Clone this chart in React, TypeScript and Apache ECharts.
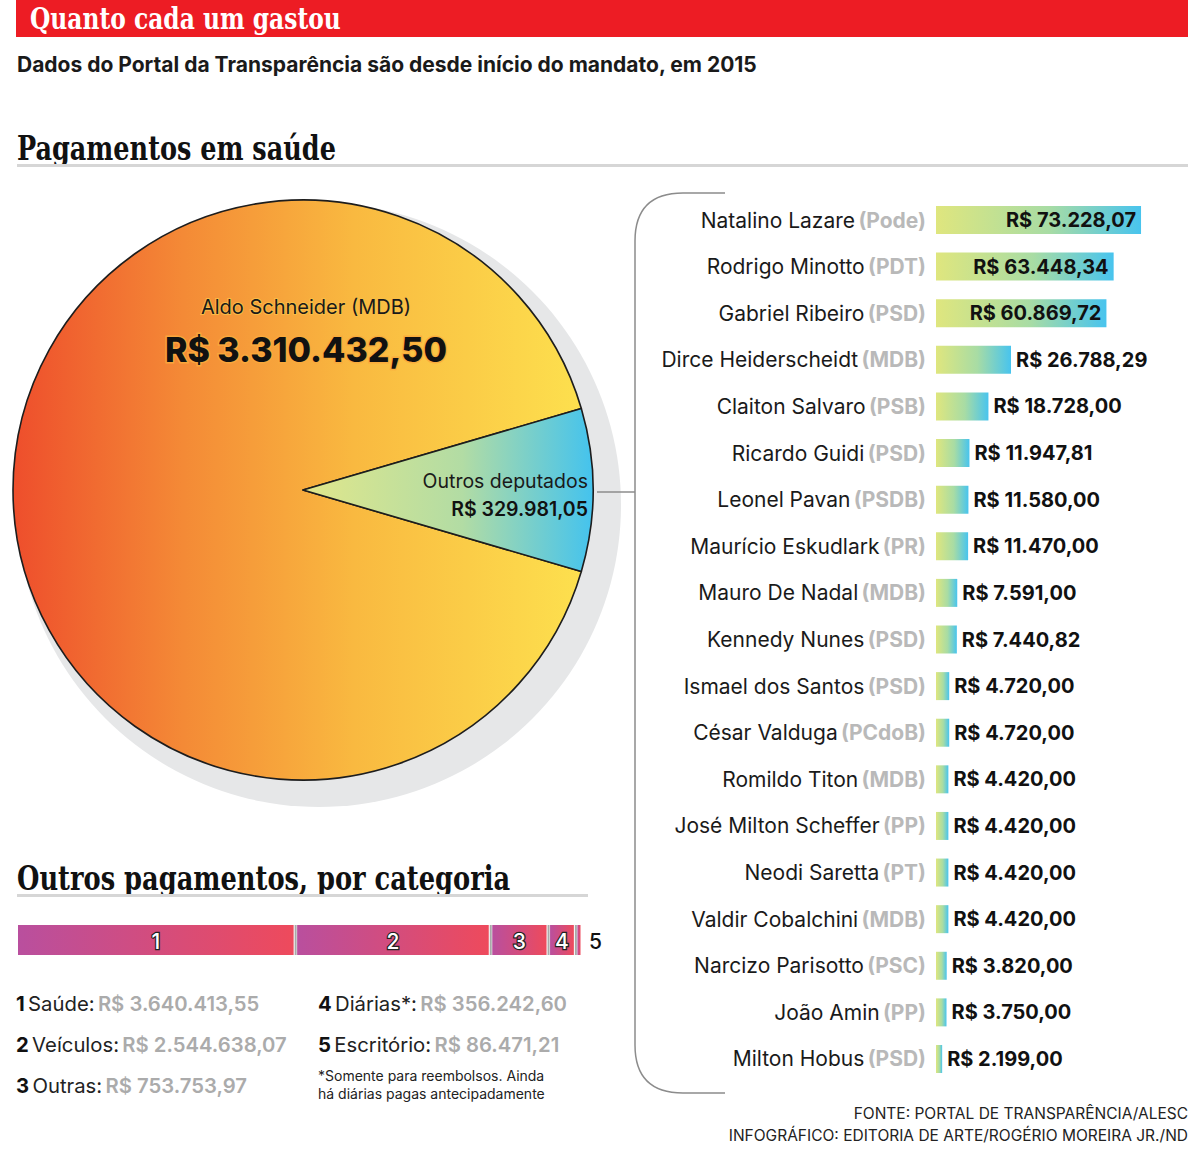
import React, { useEffect, useRef } from "react";
import * as echarts from "echarts";

// ---------- DATA ----------
const pieNames = ["Aldo Schneider (MDB)", "Outros deputados"];
const pieValues = [3310432.5, 329981.05];

const depNames = [
  "Natalino Lazare", "Rodrigo Minotto", "Gabriel Ribeiro", "Dirce Heiderscheidt",
  "Claiton Salvaro", "Ricardo Guidi", "Leonel Pavan", "Maurício Eskudlark",
  "Mauro De Nadal", "Kennedy Nunes", "Ismael dos Santos", "César Valduga",
  "Romildo Titon", "José Milton Scheffer", "Neodi Saretta", "Valdir Cobalchini",
  "Narcizo Parisotto", "João Amin", "Milton Hobus",
];
const depParties = [
  "Pode", "PDT", "PSD", "MDB", "PSB", "PSD", "PSDB", "PR", "MDB", "PSD", "PSD",
  "PCdoB", "MDB", "PP", "PT", "MDB", "PSC", "PP", "PSD",
];
const depValues = [
  73228.07, 63448.34, 60869.72, 26788.29, 18728.0, 11947.81, 11580.0, 11470.0,
  7591.0, 7440.82, 4720.0, 4720.0, 4420.0, 4420.0, 4420.0, 4420.0, 3820.0, 3750.0, 2199.0,
];

const catNames = ["Saúde", "Veículos", "Outras", "Diárias*", "Escritório"];
const catValues = [3640413.55, 2544638.07, 753753.97, 356242.6, 86471.21];

const titleText = "Quanto cada um gastou";
const subtitleText = "Dados do Portal da Transparência são desde início do mandato, em 2015";
const section1 = "Pagamentos em saúde";
const section2 = "Outros pagamentos, por categoria";
const noteText = "*Somente para reembolsos. Ainda\nhá diárias pagas antecipadamente";
const source1 = "FONTE: PORTAL DE TRANSPARÊNCIA/ALESC";
const source2 = "INFOGRÁFICO: EDITORIA DE ARTE/ROGÉRIO MOREIRA JR./ND";

// ---------- HELPERS ----------
function brl(v: number): string {
  const [i, d] = v.toFixed(2).split(".");
  return "R$ " + i.replace(/\B(?=(\d{3})+(?!\d))/g, ".") + "," + d;
}

const SANS = "Inter, 'Open Sans', 'Noto Sans', sans-serif";
const SLAB = "'DejaVu Serif Condensed', 'DejaVu Serif', serif";

let registered = false;
function registerShapes() {
  if (registered) return;
  registered = true;
  const d =
    "M725,193 L683,193 Q635,193 635,241 L635,1045 Q635,1093 683,1093 L725,1093";
  echarts.graphic.registerShape("bracket", echarts.graphic.extendPath(d, {}));
}

function heading(text: string, x: number, y: number, size: number, sx: number, fill: string) {
  return {
    type: "group",
    x,
    y,
    scaleX: sx,
    scaleY: 1,
    z: 2,
    children: [
      {
        type: "text",
        x: 0,
        y: 0,
        style: { text, fill, fontFamily: SLAB, fontWeight: 700, fontSize: size, verticalAlign: "middle" },
      },
    ],
  };
}

export default function App() {
  const ref = useRef<HTMLDivElement>(null);

  useEffect(() => {
    if (!ref.current) return;
    registerShapes();
    const chart = echarts.init(ref.current, null, { renderer: "svg" });

    const pieTotal = pieValues[0] + pieValues[1];
    const outrosAngle = (pieValues[1] / pieTotal) * 360;

    const catTotal = catValues.reduce((a, b) => a + b, 0);
    const catData: number[][] = [];
    let acc = 0;
    catValues.forEach((v, i) => {
      catData.push([acc, acc + v, i]);
      acc += v;
    });

    const barGradient = () =>
      new echarts.graphic.LinearGradient(0, 0, 1, 0, [
        { offset: 0, color: "#dfe67e" },
        { offset: 0.55, color: "#a8dca4" },
        { offset: 1, color: "#48c4ee" },
      ]);

    const legendItems: any[] = [];
    catNames.forEach((n, i) => {
      const col = i < 3 ? 0 : 1;
      const row = i < 3 ? i : i - 3;
      legendItems.push({
        type: "text",
        x: col === 0 ? 16 : 318,
        y: 1003 + row * 41,
        style: {
          text: `{n|${i + 1}} {l|${n}:} {v|${brl(catValues[i])}}`,
          verticalAlign: "middle",
          rich: {
            n: { fontFamily: SANS, fontSize: 20.3, fontWeight: 700, fill: "#111" },
            l: { fontFamily: SANS, fontSize: 20.3, fontWeight: 400, fill: "#222" },
            v: { fontFamily: SANS, fontSize: 20.3, fontWeight: 600, fill: "#ababab" },
          },
        },
      });
    });

    const option: any = {
      animation: false,
      backgroundColor: "#ffffff",
      graphic: [
        { type: "rect", z: 0, shape: { x: 16, y: 0, width: 1172, height: 37 }, style: { fill: "#ed1c24" } },
        heading(titleText, 30, 18, 29, 0.896, "#ffffff"),
        {
          type: "text", x: 17, y: 64,
          style: { text: subtitleText, fill: "#1a1a1a", fontFamily: SANS, fontWeight: 700, fontSize: 21, verticalAlign: "middle" },
        },
        heading(section1, 17, 148, 33, 0.86, "#111111"),
        { type: "rect", shape: { x: 17, y: 164, width: 1171, height: 3 }, style: { fill: "#d6d6d6" } },
        heading(section2, 17, 878, 33, 0.866, "#111111"),
        { type: "rect", shape: { x: 17, y: 894, width: 571, height: 3 }, style: { fill: "#d6d6d6" } },
        { type: "circle", z: 0, shape: { cx: 319, cy: 505, r: 302 }, style: { fill: "#e6e7e8" } },
        { type: "bracket", x: 0, y: 0, style: { stroke: "#8c8c8c", lineWidth: 1.5, fill: "none" } },
        { type: "line", shape: { x1: 597, y1: 492, x2: 635, y2: 492 }, style: { stroke: "#8c8c8c", lineWidth: 1.5 } },
        ...legendItems,
        {
          type: "text", x: 318, y: 1066,
          style: { text: noteText, fill: "#222", fontFamily: SANS, fontSize: 14, lineHeight: 18, verticalAlign: "top" },
        },
        {
          type: "text", x: 1188, y: 1113,
          style: { text: source1, fill: "#222", fontFamily: SANS, fontSize: 15.5, align: "right", verticalAlign: "middle" },
        },
        {
          type: "text", x: 1188, y: 1135,
          style: { text: source2, fill: "#222", fontFamily: SANS, fontSize: 15.5, align: "right", verticalAlign: "middle" },
        },
      ],
      grid: [
        { left: 936, top: 196.7, width: 224, height: 885.6, containLabel: false },
        { left: 18, top: 925, width: 566, height: 30, containLabel: false },
      ],
      xAxis: [
        { gridIndex: 0, type: "value", min: 0, max: 80000, show: false },
        { gridIndex: 1, type: "value", min: 0, max: catTotal, show: false },
      ],
      yAxis: [
        {
          gridIndex: 0,
          type: "category",
          inverse: true,
          data: depNames,
          axisLine: { show: false },
          axisTick: { show: false },
          axisLabel: {
            margin: 10,
            formatter: (v: string, i: number) => `{n|${v}} {p|(${depParties[i]})}`,
            rich: {
              n: { fontFamily: SANS, fontSize: 21, color: "#1a1a1a", fontWeight: 400 },
              p: { fontFamily: SANS, fontSize: 21, color: "#b9b9b9", fontWeight: 700 },
            },
          },
        },
        { gridIndex: 1, type: "value", min: 0, max: 1, show: false },
      ],
      series: [
        {
          type: "pie",
          z: 3,
          center: [303, 490],
          radius: 290,
          startAngle: -outrosAngle / 2,
          clockwise: true,
          silent: true,
          labelLine: { show: false },
          itemStyle: { borderColor: "#1d1d1d", borderWidth: 1.6 },
          data: [
            {
              name: pieNames[0],
              value: pieValues[0],
              itemStyle: {
                color: new echarts.graphic.LinearGradient(0, 0, 1, 0, [
                  { offset: 0, color: "#ee4e2c" },
                  { offset: 0.3, color: "#f48a36" },
                  { offset: 0.6, color: "#f9b940" },
                  { offset: 1, color: "#fde04e" },
                ]),
              },
              label: {
                show: true,
                position: "inside",
                formatter: (p: any) => `{a|${p.name}}\n{b|${brl(p.value)}}`,
                rich: {
                  a: { fontFamily: SANS, fontSize: 20, color: "#1a1a1a", lineHeight: 43, textBorderColor: "rgba(250,190,70,0.9)", textBorderWidth: 2 },
                  b: { fontFamily: SANS, fontSize: 34, fontWeight: 800, color: "#111", lineHeight: 43, textBorderColor: "rgba(250,170,60,0.9)", textBorderWidth: 3 },
                },
              },
            },
            {
              name: pieNames[1],
              value: pieValues[1],
              itemStyle: {
                color: new echarts.graphic.LinearGradient(0, 0, 1, 0, [
                  { offset: 0, color: "#e1e78b" },
                  { offset: 0.55, color: "#b2dca4" },
                  { offset: 1, color: "#44c3ee" },
                ]),
              },
              label: {
                show: true,
                position: "inside",
                formatter: (p: any) => `{a|${p.name}}\n{b|${brl(p.value)}}`,
                rich: {
                  a: { fontFamily: SANS, fontSize: 19.5, color: "#1a1a1a", lineHeight: 28, align: "right" },
                  b: { fontFamily: SANS, fontSize: 19.5, fontWeight: 600, color: "#111", lineHeight: 28, align: "right" },
                },
              },
            },
          ],
          labelLayout: (params: any) =>
            params.dataIndex === 0
              ? { x: 306, y: 328, align: "center", verticalAlign: "middle" }
              : { x: 588, y: 495, align: "right", verticalAlign: "middle" },
        },
        {
          type: "bar",
          xAxisIndex: 0,
          yAxisIndex: 0,
          barWidth: 28,
          silent: true,
          itemStyle: { color: barGradient() },
          data: depValues.map((v, i) => ({
            value: v,
            label: {
              show: true,
              position: i < 3 ? "insideRight" : "right",
              distance: 5,
              formatter: (p: any) => brl(p.value),
              fontFamily: SANS,
              fontSize: 20,
              fontWeight: 700,
              color: "#111",
            },
          })),
        },
        {
          type: "custom",
          xAxisIndex: 1,
          yAxisIndex: 1,
          silent: true,
          data: catData,
          renderItem: (params: any, api: any) => {
            const s = api.coord([api.value(0), 0]);
            const e = api.coord([api.value(1), 1]);
            const idx = api.value(2);
            const top = e[1];
            const h = s[1] - e[1];
            const w = e[0] - s[0];
            const last = idx === catValues.length - 1;
            return {
              type: "group",
              children: [
                {
                  type: "rect",
                  shape: { x: s[0], y: top, width: Math.max(w - 3.5, 1.5), height: h },
                  style: {
                    fill: new echarts.graphic.LinearGradient(0, 0, 1, 0, [
                      { offset: 0, color: "#b94f9e" },
                      { offset: 1, color: "#ee4a5c" },
                    ]),
                  },
                },
                last
                  ? { type: "rect", shape: { x: 0, y: 0, width: 0, height: 0 }, style: { fill: "none" } }
                  : {
                      type: "rect",
                      shape: { x: e[0] - 2.5, y: top, width: 2, height: h },
                      style: { fill: "#a9a9a9" },
                    },
                {
                  type: "text",
                  style: {
                    text: String(idx + 1),
                    x: last ? e[0] + 5 : s[0] + (w - 3.5) / 2,
                    y: top + h / 2 + 1,
                    align: last ? "left" : "center",
                    verticalAlign: "middle",
                    fontFamily: SANS,
                    fontSize: 21,
                    fontWeight: 500,
                    fill: last ? "#111" : "#ffffff",
                    stroke: last ? undefined : "#222",
                    lineWidth: last ? 0 : 2.5,
                  },
                },
              ],
            };
          },
        },
      ],
    };

    chart.setOption(option);
    return () => chart.dispose();
  }, []);

  return (
    <div
      ref={ref}
      style={{ position: "absolute", left: 0, top: 0, width: 1200, height: 1173, background: "#fff" }}
    />
  );
}
